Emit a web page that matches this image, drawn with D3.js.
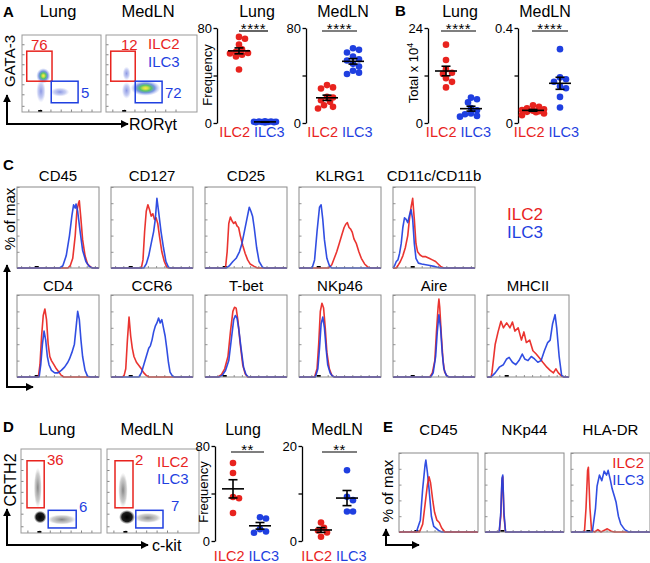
<!DOCTYPE html>
<html><head><meta charset="utf-8">
<script src="https://cdn.jsdelivr.net/npm/d3@7"></script>
<style>body{margin:0;background:#fff}svg{display:block}</style>
</head><body><svg id="c" width="650" height="563"></svg>
<script>
// ---------------- DATA ----------------
const groups = ["ILC2", "ILC3"];
// Panel A frequencies
const aLungILC2 = [72.5, 71, 66, 62, 60, 59, 58.5, 57.5, 56, 45];
const aLungILC3 = [0.5, 1, 1.2, 0.8, 1.5, 0.6, 1, 0.9, 1.3, 0.7];
const aMedILC2 = [31.9, 30, 29, 22, 21.5, 19.2, 17.8, 15, 13.6, 12.2];
const aMedILC3 = [63, 61.6, 59.4, 56, 53.7, 52.6, 49.8, 47.5, 44, 42.4, 41.3];
// Panel B totals (x10^4)
const bLungILC2 = [19.8, 15.9, 13.6, 12.7, 12.4, 11.3, 10.4, 9];
const bLungILC3 = [6.4, 6.0, 5.2, 3.8, 3.2, 2.4, 2.2, 1.6, 1.8];
const bMedILC2 = [0.075, 0.068, 0.062, 0.058, 0.055, 0.052, 0.05, 0.047, 0.045, 0.04, 0.033];
const bMedILC3 = [0.311, 0.192, 0.184, 0.174, 0.155, 0.146, 0.110, 0.065];
// Panel D frequencies
const dLungILC2 = [65.7, 57.3, 37, 36, 23.6];
const dLungILC3 = [20, 19, 10, 8, 7];
const dMedILC2 = [3.9, 2.8, 2.2, 1.8, 0.9];
const dMedILC3 = [14.9, 9.3, 8.6, 6.2, 6.2];
// tick labels
const ticksA = [0, 40, 80], ticksALab = ["0", "", "80"];
const ticksBL = [0, 12, 24], ticksBLLab = ["0", "", "24"];
const ticksBM = [0, 0.2, 0.4], ticksBMLab = ["0", "", "0.4"];
const ticksDL = [0, 40, 80], ticksDLLab = ["0", "", "80"];
const ticksDM = [0, 10, 20], ticksDMLab = ["0", "", "20"];
// Flow gates (axis units 0-100): [x1,x2,y1,y2]
const gateALungILC2 = [6, 38, 40, 79], gateALungILC3 = [37, 71, 12, 40];
const gateAMedILC2 = [6, 37, 40, 79], gateAMedILC3 = [37, 71, 12, 40];
const gateDLungILC2 = [7.5, 29, 30, 86], gateDLungILC3 = [34, 69, 6, 27];
const gateDMedILC2 = [10, 32.5, 30, 86], gateDMedILC3 = [36, 70, 6, 27];
const pctALung = ["76", "5"], pctAMed = ["12", "72"], pctDLung = ["36", "6"], pctDMed = ["2", "7"];
// Flow populations: [cx, cy, rx, ry, kind]
const popALung = [[24, 27, 6, 15, "sparse"], [48, 26, 12, 6, "sparse"], [27, 47, 9, 10, "dense"]];
const popAMed = [[26, 50, 5, 9, "sparse"], [26, 28, 6, 11, "sparse"], [50, 31, 19, 10, "dense"]];
const popDLung = [[51, 16, 18, 6, "gray"], [21, 54, 5, 24, "gray"], [24, 19, 8, 7.5, "black"]];
const popDMed = [[51, 18, 17, 6, "gray"], [20, 51, 6, 21, "gray"], [25, 19, 10, 8.5, "black"]];
const flowTicks = [8, 23, 36, 49, 62, 75, 88];
// Histograms (x: 0-100 fluorescence units, y: % of max)
const cd45Red = [[0,0],[62,0],[65,3],[68,12],[71,40],[73,70],[75,80],[76,83],[78,60],[80,35],[83,15],[86,5],[90,1],[93,0],[100,0]];
const cd45Blue = [[0,0],[52,0],[56,3],[60,15],[64,40],[67,65],[69,78],[71,74],[72,79],[74,70],[77,45],[80,22],[84,8],[88,2],[92,0],[100,0]];
const cd127Red = [[0,0],[37,0],[39,10],[41,45],[43,70],[45,78],[47,72],[49,64],[51,67],[53,60],[55,62],[57,55],[59,40],[62,20],[65,8],[68,1],[71,0],[100,0]];
const cd127Blue = [[0,0],[40,0],[43,5],[46,15],[49,30],[52,45],[54,60],[56,86],[58,70],[61,45],[64,25],[67,8],[70,1],[73,0],[100,0]];
const cd25Red = [[0,0],[25,0],[27,20],[29,55],[31,63],[33,58],[35,55],[37,57],[39,52],[41,50],[43,40],[46,28],[49,18],[52,10],[55,5],[60,2],[64,0],[100,0]];
const cd25Blue = [[0,0],[26,0],[30,3],[34,8],[38,12],[42,20],[45,30],[48,45],[51,60],[54,75],[56,70],[58,64],[60,50],[63,25],[66,8],[70,1],[73,0],[100,0]];
const klrgRed = [[0,0],[36,0],[40,4],[43,12],[46,20],[49,30],[52,40],[55,50],[57,54],[59,56],[61,50],[63,48],[65,44],[67,36],[70,30],[73,20],[76,12],[80,5],[84,1],[88,0],[100,0]];
const klrgBlue = [[0,0],[16,0],[19,10],[22,45],[25,75],[27,78],[29,60],[31,35],[34,12],[37,3],[40,0],[100,0]];
const cd11Red = [[0,0],[4,0],[6,3],[9,8],[12,15],[15,25],[18,40],[20,60],[22,75],[24,86],[26,60],[28,30],[30,20],[33,16],[36,14],[40,14],[44,12],[48,10],[52,8],[55,5],[58,2],[62,0],[100,0]];
const cd11Blue = [[0,0],[2,3],[4,8],[6,10],[8,18],[10,30],[12,50],[14,62],[16,60],[18,56],[20,65],[22,72],[24,60],[26,30],[28,12],[31,6],[35,5],[40,4],[45,3],[50,2],[54,1],[58,0],[100,0]];
const cd4Red = [[0,0],[26,0],[28,15],[30,50],[32,75],[34,83],[36,70],[38,40],[40,25],[42,20],[45,15],[48,10],[51,6],[54,2],[57,0],[100,0]];
const cd4Blue = [[0,0],[27,0],[29,15],[31,40],[33,56],[35,45],[37,25],[39,15],[42,8],[46,5],[50,5],[54,8],[58,12],[62,18],[64,22],[67,30],[70,40],[72,60],[74,80],[76,70],[78,45],[80,25],[83,8],[86,1],[90,0],[100,0]];
const ccr6Red = [[0,0],[14,0],[16,2],[18,10],[20,45],[22,73],[24,50],[26,35],[28,25],[31,18],[34,14],[37,10],[40,5],[43,2],[46,0],[100,0]];
const ccr6Blue = [[0,0],[34,0],[37,5],[40,15],[43,25],[46,35],[48,38],[50,45],[52,55],[54,62],[56,66],[58,72],[60,66],[62,70],[64,60],[66,50],[68,35],[70,18],[72,6],[75,1],[78,0],[100,0]];
const tbetRed = [[0,0],[16,0],[20,3],[24,10],[28,25],[31,55],[34,80],[36,85],[38,84],[40,70],[43,40],[46,15],[49,4],[52,0],[100,0]];
const tbetBlue = [[0,0],[17,0],[21,2],[25,8],[29,20],[32,45],[35,70],[37,75],[39,72],[41,60],[44,35],[47,12],[50,3],[53,0],[100,0]];
const nkp46Red = [[0,0],[19,0],[22,10],[24,40],[26,80],[28,90],[30,84],[32,60],[34,30],[37,10],[40,2],[43,0],[100,0]];
const nkp46Blue = [[0,0],[20,0],[23,10],[25,35],[27,65],[29,73],[31,60],[33,35],[35,15],[38,5],[41,1],[44,0],[100,0]];
const aireRed = [[0,0],[45,0],[48,5],[51,20],[53,55],[55,85],[56,95],[57,85],[59,50],[61,20],[63,6],[66,1],[69,0],[100,0]];
const aireBlue = [[0,0],[46,0],[49,5],[52,25],[54,55],[56,76],[58,60],[60,30],[62,10],[65,2],[68,0],[100,0]];
const mhcRed = [[0,0],[5,0],[6,5],[10,40],[13.5,55],[17,68],[20,60],[24,66],[28,60],[31,67],[34,56],[38,60],[42,45],[45,55],[48,42],[52,45],[56,32],[60,28],[65,22],[68,18],[73,12],[77,8],[81,5],[84,10],[87,5],[91,1],[94,0],[100,0]];
const mhcBlue = [[0,0],[5,0],[10,5],[15,12],[20,15],[24,22],[27,24],[31,18],[35,15],[39,20],[43,28],[46,22],[50,20],[54,25],[58,22],[62,18],[66,20],[70,32],[74,42],[77,45],[80,65],[83,76],[85,60],[88,25],[91,2],[94,0],[100,0]];
const eCd45Red = [[0,0],[26,0],[30,10],[33,35],[36,60],[38,70],[40,62],[43,38],[45,25],[48,15],[51,12],[54,5],[58,0],[100,0]];
const eCd45Blue = [[0,0],[22,0],[27,15],[30,55],[33,85],[34,91],[36,75],[38,55],[41,20],[44,7],[50,2],[54,0],[100,0]];
const nkp44Red = [[0,0],[18,0],[20,20],[21.5,65],[22.5,70],[24,20],[26,0],[100,0]];
const nkp44Blue = [[0,0],[18,0],[20,25],[21.5,68],[22.5,72],[24,25],[26,0],[100,0]];
const hlaRed = [[0,0],[17,0],[19,30],[21,78],[22,82],[24,30],[26,2],[30,0],[34,3],[38,0],[46,4],[51,1],[55,0],[100,0]];
const hlaBlue = [[0,0],[27,0],[31,30],[33,58],[36,72],[39,65],[42,77],[45,72],[47,78],[50,65],[52,55],[55,45],[57,38],[60,20],[63,10],[68,3],[73,0],[100,0]];
const histYTicks = [0, 20, 40, 60, 80, 100];
const histXTicks = [5, 15, 25, 35, 45, 55, 65, 75, 85, 95];

// ---------------- DRAWING ----------------
const RED = "#e8231e", BLUE = "#1f3fe0";
const FF = "'Liberation Sans', Arial, Helvetica, sans-serif";
const svg = d3.select("#c");
svg.append("rect").attr("width", 650).attr("height", 563).attr("fill", "#fff");
const defs = svg.append("defs");

function grad(id, stops) {
  const g = defs.append("radialGradient").attr("id", id);
  stops.forEach(s => g.append("stop").attr("offset", s[0]).attr("stop-color", s[1]).attr("stop-opacity", s[2]));
}
grad("g-dense", [[0, "#ffe94a", 1], [0.18, "#c9df45", 1], [0.38, "#4cbf63", 0.95], [0.62, "#4a72d8", 0.75], [1, "#8c9ae8", 0]]);
grad("g-sparse", [[0, "#5a6ad8", 0.7], [0.6, "#8393e4", 0.45], [1, "#a8b0f0", 0]]);
grad("g-black", [[0, "#000", 1], [0.65, "#111", 0.95], [1, "#555", 0]]);
grad("g-gray", [[0, "#333", 0.6], [0.7, "#777", 0.35], [1, "#aaa", 0]]);

defs.append("marker").attr("id", "arr").attr("viewBox", "0 0 10 10").attr("refX", 9).attr("refY", 5)
  .attr("markerWidth", 8).attr("markerHeight", 8).attr("markerUnits", "userSpaceOnUse").attr("orient", "auto")
  .append("path").attr("d", "M0,0L10,5L0,10Z").attr("fill", "#000");

function text(x, y, s, o = {}) {
  const t = svg.append("text").attr("x", x).attr("y", y).text(s)
    .attr("font-family", FF).attr("font-size", o.size || 14).attr("fill", o.fill || "#000")
    .attr("text-anchor", o.anchor || "start");
  if (o.bold) t.attr("font-weight", "bold");
  if (o.rotate) t.attr("transform", `rotate(-90,${x},${y})`);
  if (o.ls) t.attr("letter-spacing", o.ls);
  return t;
}
function arrowLine(x1, y1, x2, y2) {
  svg.append("line").attr("x1", x1).attr("y1", y1).attr("x2", x2).attr("y2", y2)
    .attr("stroke", "#000").attr("stroke-width", 2).attr("marker-end", "url(#arr)");
}

// ---- compact beeswarm offsets (computed) ----
function swarm(vals, ys, cx, r) {
  const idx = vals.map((v, i) => i).sort((a, b) => vals[b] - vals[a]);
  const placed = [], out = new Array(vals.length);
  const cands = [0, 3, -3, 6, -6, 9, -9, 11, -11];
  idx.forEach(i => {
    const y = ys(vals[i]);
    let best = null, bestD = -1;
    for (const off of cands) {
      const x = cx + off;
      const dmin = placed.length ? d3.min(placed, p => Math.hypot(p[0] - x, p[1] - y)) : 99;
      if (dmin >= r * 1.6) { best = x; break; }
      if (dmin > bestD) { bestD = dmin; best = x; }
    }
    placed.push([best, y]); out[i] = [best, y];
  });
  return out;
}

function dotPanel(o) {
  const g = svg.append("g");
  const y = d3.scaleLinear().domain([0, o.max]).range([o.yb, o.yt]);
  const x = d3.scalePoint().domain(groups).range([o.x1, o.x2]);
  const axis = d3.axisLeft(y).tickValues(o.ticks).tickFormat((d, i) => o.tickLabels[i]).tickSize(3.5).tickSizeOuter(0).tickPadding(1.5);
  const ag = g.append("g").attr("transform", `translate(${o.ax},0)`).call(axis);
  ag.select(".domain").attr("stroke", "#000").attr("stroke-width", 1.3);
  ag.selectAll(".tick line").attr("stroke", "#000").attr("stroke-width", 1.3);
  ag.selectAll(".tick text").attr("font-family", FF).attr("font-size", 13).attr("fill", "#000");
  text(o.titleX, o.titleY, o.title, { size: 16, anchor: "middle" });
  g.append("line").attr("x1", o.sig[0]).attr("x2", o.sig[1]).attr("y1", o.sig[2]).attr("y2", o.sig[2]).attr("stroke", "#000").attr("stroke-width", 1.2);
  text((o.sig[0] + o.sig[1]) / 2, o.sig[2] + 3, o.stars, { size: 15, anchor: "middle", ls: 0.5 });
  const cols = [RED, BLUE];
  [o.v1, o.v2].forEach((vals, gi) => {
    const cx = x(groups[gi]);
    const pts = swarm(vals, y, cx, 3.3);
    g.selectAll(null).data(pts).join("circle").attr("cx", d => d[0]).attr("cy", d => d[1]).attr("r", 3.3).attr("fill", cols[gi]);
    const m = d3.mean(vals), se = d3.deviation(vals) / Math.sqrt(vals.length);
    const L = g.append("g").attr("stroke", "#000").attr("stroke-width", 1.6);
    L.append("line").attr("x1", cx - 11).attr("x2", cx + 11).attr("y1", y(m)).attr("y2", y(m));
    L.append("line").attr("x1", cx).attr("x2", cx).attr("y1", y(m - se)).attr("y2", y(m + se));
    L.append("line").attr("x1", cx - 4.5).attr("x2", cx + 4.5).attr("y1", y(m - se)).attr("y2", y(m - se));
    L.append("line").attr("x1", cx - 4.5).attr("x2", cx + 4.5).attr("y1", y(m + se)).attr("y2", y(m + se));
  });
  const mid = (o.x1 + o.x2) / 2;
  text(mid - 2, o.labY, "ILC2", { size: 14.5, fill: RED, anchor: "end" });
  text(mid + 2, o.labY, "ILC3", { size: 14.5, fill: BLUE, anchor: "start" });
}

function flowPanel(o) {
  const g = svg.append("g");
  const x = d3.scaleLinear().domain([0, 100]).range([o.x0, o.x0 + o.unitW]);
  const y = d3.scaleLinear().domain([0, 100]).range([o.y1, o.y0]);
  const cid = "clip" + Math.round(o.x0) + "_" + Math.round(o.y0);
  defs.append("clipPath").attr("id", cid).append("rect").attr("x", o.x0).attr("y", o.y0).attr("width", o.w).attr("height", o.y1 - o.y0);
  const pg = g.append("g").attr("clip-path", `url(#${cid})`);
  o.pops.forEach(p => {
    pg.append("ellipse").attr("cx", x(p[0])).attr("cy", y(p[1]))
      .attr("rx", x(p[0] + p[2]) - x(p[0])).attr("ry", y(p[1]) - y(p[1] + p[3]))
      .attr("fill", `url(#g-${p[4]})`);
  });
  const ax = d3.axisBottom(x).tickValues(flowTicks).tickSize(-2.5).tickFormat("");
  const bg = g.append("g").attr("transform", `translate(0,${o.y1})`).call(ax);
  bg.select(".domain").remove();
  bg.selectAll("line").attr("stroke", "#666").attr("stroke-width", 0.8);
  const ay = d3.axisLeft(y).tickValues(flowTicks).tickSize(-2.5).tickFormat("");
  const lg = g.append("g").attr("transform", `translate(${o.x0},0)`).call(ay);
  lg.select(".domain").remove();
  lg.selectAll("line").attr("stroke", "#666").attr("stroke-width", 0.8);
  g.append("rect").attr("x", x(23) - 2).attr("y", o.y1 - 2).attr("width", 4).attr("height", 2).attr("fill", "#000");
  g.append("rect").attr("x", o.x0).attr("y", o.y0).attr("width", o.w).attr("height", o.y1 - o.y0)
    .attr("fill", "none").attr("stroke", "#999").attr("stroke-width", 1);
  [[o.gate2, RED], [o.gate3, BLUE]].forEach(([gt, c]) => {
    g.append("rect").attr("x", x(gt[0])).attr("y", y(gt[3])).attr("width", x(gt[1]) - x(gt[0]))
      .attr("height", y(gt[2]) - y(gt[3])).attr("fill", "none").attr("stroke", c).attr("stroke-width", 1.5);
  });
  text(o.p1[0], o.p1[1], o.pct[0], { size: 15, fill: RED });
  text(o.p2[0], o.p2[1], o.pct[1], { size: 15, fill: BLUE });
}

function histPanel(o) {
  const g = svg.append("g");
  const x = d3.scaleLinear().domain([0, 100]).range([o.x, o.x + o.w]);
  const y = d3.scaleLinear().domain([0, 100]).range([o.y + o.h, o.y]);
  const ax = d3.axisBottom(x).tickValues(histXTicks).tickSize(-2).tickFormat("");
  const bg = g.append("g").attr("transform", `translate(0,${o.y + o.h})`).call(ax);
  bg.select(".domain").remove();
  bg.selectAll("line").attr("stroke", "#777").attr("stroke-width", 0.8);
  const ay = d3.axisLeft(y).tickValues(histYTicks).tickSize(-2.5).tickFormat("");
  const lg = g.append("g").attr("transform", `translate(${o.x},0)`).call(ay);
  lg.select(".domain").remove();
  lg.selectAll("line").attr("stroke", "#777").attr("stroke-width", 0.8);
  g.append("rect").attr("x", x(o.zero || 24) - 2).attr("y", o.y + o.h - 2).attr("width", 4).attr("height", 2).attr("fill", "#000");
  const line = d3.line().x(d => x(d[0])).y(d => y(d[1]));
  const order = o.blueFirst ? [[o.blue, BLUE], [o.red, RED]] : [[o.red, RED], [o.blue, BLUE]];
  order.forEach(([d, c]) => g.append("path").attr("d", line(d)).attr("fill", "none").attr("stroke", c)
    .attr("stroke-width", 1.6).attr("stroke-opacity", 0.92).attr("stroke-linejoin", "round"));
  g.append("rect").attr("x", o.x).attr("y", o.y).attr("width", o.w).attr("height", o.h)
    .attr("fill", "none").attr("stroke", "#8a8a8a").attr("stroke-width", 1);
  text(o.x + o.w / 2, o.titleY, o.title, { size: 15, anchor: "middle" });
}

// ---- Panel A ----
text(3, 17, "A", { size: 15, bold: true });
text(58, 17, "Lung", { size: 16.5, anchor: "middle" });
text(148, 17, "MedLN", { size: 16.5, anchor: "middle" });
flowPanel({ x0: 22, w: 79, unitW: 79, y0: 35, y1: 112, pops: popALung, gate2: gateALungILC2, gate3: gateALungILC3, pct: pctALung, p1: [31, 50], p2: [81, 98] });
flowPanel({ x0: 106, w: 91, unitW: 79, y0: 35, y1: 112, pops: popAMed, gate2: gateAMedILC2, gate3: gateAMedILC3, pct: pctAMed, p1: [121, 50], p2: [165, 98] });
text(148, 49, "ILC2", { size: 15, fill: RED });
text(148, 67, "ILC3", { size: 15, fill: BLUE });
text(15, 61, "GATA-3", { size: 15, anchor: "middle", rotate: true });
arrowLine(7, 124, 7, 95);
svg.append("line").attr("x1", 6).attr("x2", 8).attr("y1", 124).attr("y2", 124).attr("stroke", "#000").attr("stroke-width", 2);
arrowLine(6, 124, 128, 124);
const rt = text(129, 130, "ROR", { size: 16 });
rt.append("tspan").text("γt");
text(212, 75, "Frequency", { size: 13, anchor: "middle", rotate: true });
dotPanel({ ax: 217, yt: 28, yb: 123, max: 80, ticks: ticksA, tickLabels: ticksALab, x1: 239, x2: 265, v1: aLungILC2, v2: aLungILC3,
  title: "Lung", titleX: 257, titleY: 17, sig: [239, 268, 31], stars: "****", labY: 137 });
dotPanel({ ax: 306, yt: 28, yb: 123, max: 80, ticks: ticksA, tickLabels: ticksALab, x1: 327, x2: 353, v1: aMedILC2, v2: aMedILC3,
  title: "MedLN", titleX: 343, titleY: 17, sig: [322, 357, 31], stars: "****", labY: 137 });

// ---- Panel B ----
text(395, 16, "B", { size: 15, bold: true });
const tt = text(418, 73, "Total x 10", { size: 13, anchor: "middle", rotate: true });
tt.append("tspan").text("4").attr("font-size", 9).attr("dy", -5);
dotPanel({ ax: 428, yt: 28, yb: 123, max: 24, ticks: ticksBL, tickLabels: ticksBLLab, x1: 446, x2: 471, v1: bLungILC2, v2: bLungILC3,
  title: "Lung", titleX: 460, titleY: 17, sig: [441, 476, 31], stars: "****", labY: 137 });
dotPanel({ ax: 518, yt: 28, yb: 123, max: 0.4, ticks: ticksBM, tickLabels: ticksBMLab, x1: 533, x2: 560, v1: bMedILC2, v2: bMedILC3,
  title: "MedLN", titleX: 545, titleY: 17, sig: [532, 568, 31], stars: "****", labY: 137 });

// ---- Panel C ----
text(3, 170, "C", { size: 15, bold: true });
const row1 = [["CD45", cd45Red, cd45Blue], ["CD127", cd127Red, cd127Blue], ["CD25", cd25Red, cd25Blue], ["KLRG1", klrgRed, klrgBlue], ["CD11c/CD11b", cd11Red, cd11Blue]];
const row2 = [["CD4", cd4Red, cd4Blue], ["CCR6", ccr6Red, ccr6Blue], ["T-bet", tbetRed, tbetBlue], ["NKp46", nkp46Red, nkp46Blue], ["Aire", aireRed, aireBlue], ["MHCII", mhcRed, mhcBlue]];
const colX = d3.scaleLinear().domain([0, 1]).range([17, 111]);
row1.forEach((r, i) => histPanel({ x: colX(i), y: 187, w: 82, h: 81, title: r[0], red: r[1], blue: r[2], titleY: 181 }));
row2.forEach((r, i) => histPanel({ x: colX(i), y: 295, w: 82, h: 82, title: r[0], red: r[1], blue: r[2], titleY: 291 }));
text(507, 220, "ILC2", { size: 17, fill: RED });
text(507, 238, "ILC3", { size: 17, fill: BLUE });
text(15, 219, "% of max", { size: 15, anchor: "middle", rotate: true });
arrowLine(7, 388, 7, 265);
arrowLine(6, 387, 33, 387);

// ---- Panel D ----
text(3, 432, "D", { size: 15, bold: true });
text(57, 435, "Lung", { size: 16.5, anchor: "middle" });
text(147, 435, "MedLN", { size: 16.5, anchor: "middle" });
flowPanel({ x0: 21, w: 80, unitW: 80, y0: 449, y1: 533, pops: popDLung, gate2: gateDLungILC2, gate3: gateDLungILC3, pct: pctDLung, p1: [47, 465], p2: [79, 512] });
flowPanel({ x0: 107, w: 92, unitW: 80, y0: 449, y1: 533, pops: popDMed, gate2: gateDMedILC2, gate3: gateDMedILC3, pct: pctDMed, p1: [135, 465], p2: [171, 511] });
text(157, 467, "ILC2", { size: 15, fill: RED });
text(157, 484, "ILC3", { size: 15, fill: BLUE });
text(16, 480, "CRTH2", { size: 16, anchor: "middle", rotate: true });
arrowLine(7, 546, 7, 509);
arrowLine(6, 545, 148, 545);
text(152, 551, "c-kit", { size: 16 });
text(208, 492, "Frequency", { size: 13, anchor: "middle", rotate: true });
dotPanel({ ax: 215, yt: 446, yb: 541, max: 80, ticks: ticksDL, tickLabels: ticksDLLab, x1: 233, x2: 260, v1: dLungILC2, v2: dLungILC3,
  title: "Lung", titleX: 243, titleY: 435, sig: [231, 264, 452], stars: "**", labY: 561 });
dotPanel({ ax: 302, yt: 446, yb: 541, max: 20, ticks: ticksDM, tickLabels: ticksDMLab, x1: 321, x2: 347, v1: dMedILC2, v2: dMedILC3,
  title: "MedLN", titleX: 337, titleY: 435, sig: [322, 357, 452], stars: "**", labY: 561 });

// ---- Panel E ----
text(383, 432, "E", { size: 15, bold: true });
const eRow = [["CD45", eCd45Red, eCd45Blue, true], ["NKp44", nkp44Red, nkp44Blue, false], ["HLA-DR", hlaRed, hlaBlue, false]];
const eX = d3.scaleLinear().domain([0, 1]).range([399, 485]);
eRow.forEach((r, i) => histPanel({ x: eX(i), y: 453, w: 79, h: 79, title: r[0], red: r[1], blue: r[2], titleY: 435, zero: 22, blueFirst: r[3] }));
text(644, 468, "ILC2", { size: 15, fill: RED, anchor: "end" });
text(644, 485, "ILC3", { size: 15, fill: BLUE, anchor: "end" });
text(393, 491, "% of max", { size: 15, anchor: "middle", rotate: true });
arrowLine(386, 546, 386, 529);
arrowLine(385, 545, 419, 545);
</script></body></html>
